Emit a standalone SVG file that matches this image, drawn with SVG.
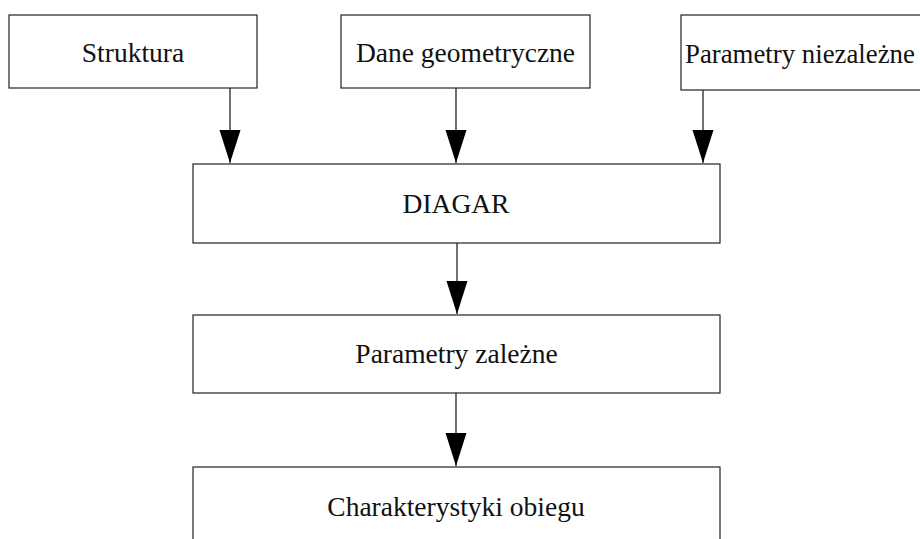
<svg xmlns="http://www.w3.org/2000/svg" width="920" height="539" viewBox="0 0 920 539">
  <style>
    .box { fill: #ffffff; stroke: #222222; stroke-width: 1.2; }
    .lbl { font-family: "Liberation Serif", "Times New Roman", serif; font-size: 27.5px; fill: #111111; }
    .mid { text-anchor: middle; }
    .conn { stroke: #111111; stroke-width: 1.2; fill: none; marker-end: url(#arrow); }
  </style>
  <defs>
    <marker id="arrow" markerUnits="userSpaceOnUse" viewBox="0 -11 34 22" refX="33" refY="0" markerWidth="34" markerHeight="22" orient="auto">
      <path d="M0,-10.5 L33,0 L0,10.5 Z" fill="#000000"/>
    </marker>
  </defs>
  <rect width="920" height="539" fill="#ffffff"/>

  <g id="connectors">
    <line class="conn" x1="230" y1="88" x2="230" y2="163"/>
    <line class="conn" x1="456" y1="88" x2="456" y2="163"/>
    <line class="conn" x1="703" y1="90" x2="703" y2="163"/>
    <line class="conn" x1="457" y1="243" x2="457" y2="314"/>
    <line class="conn" x1="456" y1="393" x2="456" y2="466"/>
  </g>

  <g id="struktura">
    <rect class="box" x="9" y="15" width="248" height="73"/>
    <text class="lbl mid" x="133" y="62">Struktura</text>
  </g>
  <g id="dane-geometryczne">
    <rect class="box" x="341" y="15" width="249" height="73"/>
    <text class="lbl mid" x="465.5" y="62">Dane geometryczne</text>
  </g>
  <g id="parametry-niezalezne">
    <rect class="box" x="681" y="15" width="250" height="75"/>
    <text class="lbl" x="685" y="63" style="font-size:26.8px">Parametry niezależne</text>
  </g>
  <g id="diagar">
    <rect class="box" x="193" y="164" width="527" height="79"/>
    <text class="lbl mid" x="456" y="213">DIAGAR</text>
  </g>
  <g id="parametry-zalezne">
    <rect class="box" x="193" y="315" width="527" height="78"/>
    <text class="lbl mid" x="456.5" y="363">Parametry zależne</text>
  </g>
  <g id="charakterystyki-obiegu">
    <rect class="box" x="193" y="467" width="527" height="100"/>
    <text class="lbl mid" x="456" y="516">Charakterystyki obiegu</text>
  </g>
</svg>
